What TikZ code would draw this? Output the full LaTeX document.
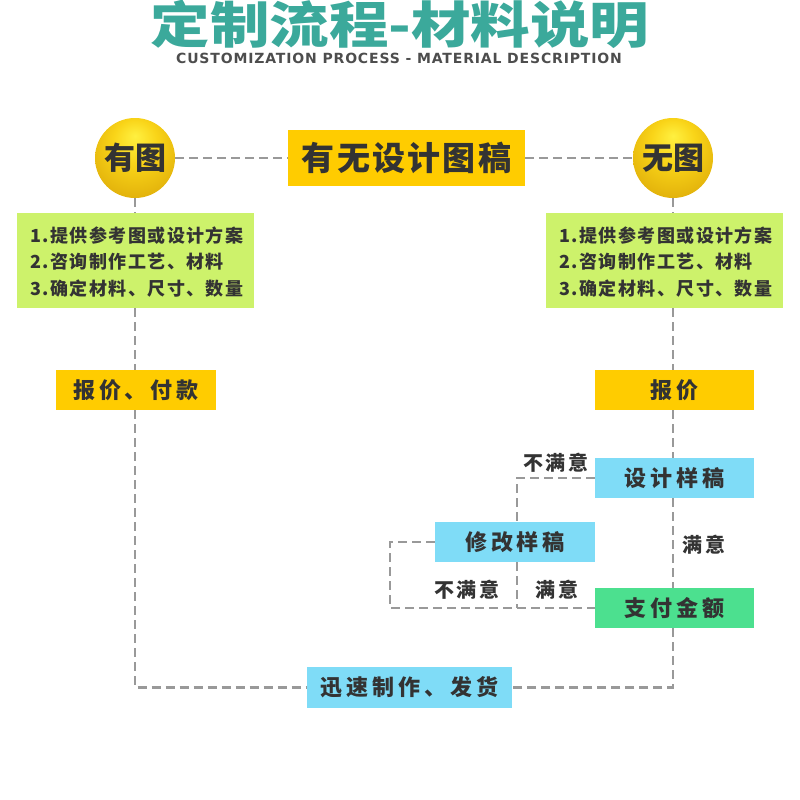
\documentclass[tikz,border=0pt]{standalone}
\usepackage{fontspec}
\setmainfont{Liberation Sans}
\newfontfamily\cjk{Noto Sans CJK SC}
\newfontfamily\cjksp[LetterSpace=8]{Noto Sans CJK SC}
\newfontfamily\cjkbox[LetterSpace=18]{Noto Sans CJK SC}
\newfontfamily\cjklbl[LetterSpace=12]{Noto Sans CJK SC}
\newfontfamily\cjkq[LetterSpace=7]{Noto Sans CJK SC}
\newfontfamily\subfont[LetterSpace=6]{DejaVu Sans}
\definecolor{titleteal}{HTML}{3BA99B}
\definecolor{subgray}{HTML}{4D4D4D}
\definecolor{boxyellow}{HTML}{FFCC00}
\definecolor{boxlime}{HTML}{CDF26B}
\definecolor{boxblue}{HTML}{7FDCF7}
\definecolor{boxgreen}{HTML}{4CE08F}
\definecolor{linegray}{HTML}{999999}
\definecolor{txtdark}{HTML}{333333}
\definecolor{gA}{HTML}{FFF040}
\definecolor{gB}{HTML}{F9D418}
\definecolor{gC}{HTML}{D9A406}
\definecolor{gD}{HTML}{7A5A02}
\pgfdeclareradialshading{goldball}{\pgfpoint{0bp}{14bp}}{color(0bp)=(gA); color(14bp)=(gB); color(38bp)=(gC); color(52bp)=(gD)}
\tikzset{
  flow/.style={draw=linegray, line width=2.2pt, dash pattern=on 9pt off 5pt},
  boxbase/.style={inner sep=0pt, text=txtdark, font=\cjkbox\bfseries\fontsize{22}{26}\selectfont},
  ybox/.style={boxbase, fill=boxyellow},
  bbox/.style={boxbase, fill=boxblue},
  gbox/.style={boxbase, fill=boxgreen},
  smallbox/.style={minimum width=159pt, minimum height=40pt},
  listbox/.style={fill=boxlime, minimum width=237pt, minimum height=95pt, inner sep=0pt},
  listtext/.style={anchor=west, inner sep=0pt, text=txtdark, font=\cjksp\bfseries\fontsize{18}{20}\selectfont},
  ball/.style={circle, minimum size=80pt, inner sep=0pt, shading=goldball, text=txtdark, font=\cjk\bfseries\fontsize{31}{34}\selectfont},
  lbl/.style={inner sep=0pt, text=txtdark, font=\cjklbl\bfseries\fontsize{20}{22}\selectfont}
}
\begin{document}
\begin{tikzpicture}[x=1pt,y=-1pt]
\useasboundingbox (0,0) rectangle (800,800);
% title
\node[inner sep=0pt, anchor=base, xscale=1.19, text=titleteal, font=\cjk\bfseries\fontsize{50}{54}\selectfont] (title) at (400,44) {定制流程-材料说明};
\node[inner sep=0pt, text=subgray, font=\subfont\bfseries\fontsize{14}{16}\selectfont] (sub) at (399,58) {CUSTOMIZATION PROCESS - MATERIAL DESCRIPTION};
% nodes
\node[ball] (c1) at (135,158) {有图};
\node[ball] (c2) at (673,158) {无图};
\node[ybox, minimum width=237pt, minimum height=56pt, font=\cjkq\bfseries\fontsize{33}{36}\selectfont] (q) at (406.5,158) {有无设计图稿};
\node[listbox] (lbox) at (135.5,260.5) {};
\node[listbox] (rbox) at (664.5,260.5) {};
\node[listtext] (l1) at (30,236) {1.提供参考图或设计方案};
\node[listtext] (l2) at (30,262) {2.咨询制作工艺、材料};
\node[listtext] (l3) at (30,289) {3.确定材料、尺寸、数量};
\node[listtext] (r1) at (559,236) {1.提供参考图或设计方案};
\node[listtext] (r2) at (559,262) {2.咨询制作工艺、材料};
\node[listtext] (r3) at (559,289) {3.确定材料、尺寸、数量};
\node[ybox, smallbox, minimum width=160pt] (pay1) at (136,390) {报价、付款};
\node[ybox, smallbox] (pay2) at (674.5,390) {报价};
\node[bbox, smallbox] (design) at (674.5,478) {设计样稿};
\node[bbox, smallbox, minimum width=160pt] (modify) at (515,542) {修改样稿};
\node[gbox, smallbox] (paid) at (674.5,608) {支付金额};
\node[bbox, minimum width=205pt, minimum height=41pt] (ship) at (409.5,687.5) {迅速制作、发货};
% junction coordinates
\coordinate (jx) at (517,0);
\coordinate (lx) at (390,0);
% connectors
\draw[flow] (c1.east) -- (q.west);
\draw[flow] (q.east) -- (c2.west);
\draw[flow] (c1.south) -- (lbox.north -| c1);
\draw[flow] (lbox.south -| c1) -- (pay1.north -| c1);
\draw[flow] (pay1.south -| c1) |- (ship.west);
\draw[flow] (c2.south) -- (rbox.north -| c2);
\draw[flow] (rbox.south -| c2) -- (pay2.north -| c2);
\draw[flow] (pay2.south -| c2) -- (design.north -| c2);
\draw[flow] (design.south -| c2) -- (paid.north -| c2);
\draw[flow] (paid.south -| c2) |- (ship.east);
\draw[flow] (design.west) -| (modify.north -| jx);
\draw[flow] (modify.west) -| (lx |- paid.west) -- (paid.west);
\draw[flow] (modify.south -| jx) -- (jx |- paid.west);
% labels
\node[lbl] (t1) at (556,463) {不满意};
\node[lbl] (t2) at (704,545) {满意};
\node[lbl] (t3) at (467,590) {不满意};
\node[lbl] (t4) at (557,590) {满意};
\end{tikzpicture}
\end{document}
